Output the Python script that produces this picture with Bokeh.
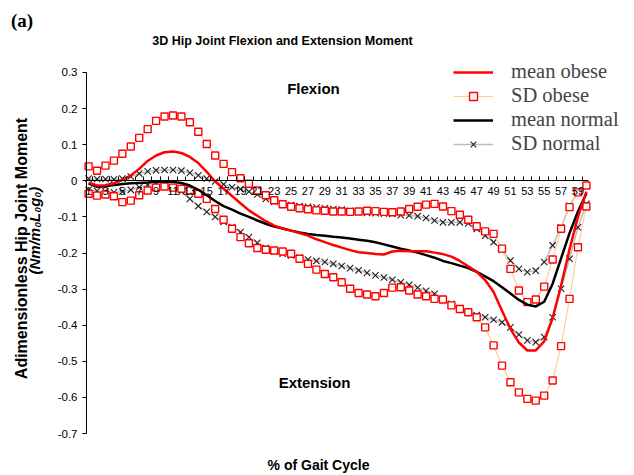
from bokeh.plotting import figure
from bokeh.models import Range1d, FixedTicker, CustomJSTickFormatter, Label, Legend, LegendItem
from bokeh.embed import file_html
from bokeh.resources import INLINE

# ---------------- data ----------------
gait_pct = list(range(1, 61))
x_tick_labels = list(range(1, 60, 2))
y_ticks = [0.3, 0.2, 0.1, 0.0, -0.1, -0.2, -0.3, -0.4, -0.5, -0.6, -0.7]

mean_obese = [-0.005, -0.013, -0.012, -0.007, 0.002, 0.015, 0.033, 0.055, 0.070, 0.079,
              0.081, 0.077, 0.066, 0.049, 0.025, -0.002, -0.022, -0.042, -0.062, -0.082,
              -0.097, -0.112, -0.124, -0.132, -0.138, -0.145, -0.152, -0.162, -0.170, -0.178,
              -0.185, -0.192, -0.198, -0.200, -0.203, -0.204, -0.196, -0.194, -0.195, -0.195,
              -0.195, -0.199, -0.203, -0.210, -0.222, -0.237, -0.252, -0.275, -0.308, -0.360,
              -0.410, -0.448, -0.470, -0.470, -0.445, -0.380, -0.290, -0.190, -0.100, -0.030]

sd_obese_upper = [0.040, 0.028, 0.042, 0.056, 0.075, 0.095, 0.119, 0.143, 0.166, 0.178,
                  0.181, 0.178, 0.162, 0.136, 0.102, 0.070, 0.047, 0.024, 0.007, -0.008,
                  -0.027, -0.040, -0.054, -0.065, -0.072, -0.076, -0.079, -0.082, -0.083, -0.085,
                  -0.085, -0.086, -0.085, -0.083, -0.084, -0.086, -0.087, -0.085, -0.078, -0.072,
                  -0.066, -0.064, -0.071, -0.084, -0.094, -0.108, -0.126, -0.140, -0.147, -0.188,
                  -0.244, -0.304, -0.336, -0.329, -0.293, -0.218, -0.133, -0.073, -0.032, -0.013]

sd_obese_lower = [-0.036, -0.041, -0.038, -0.043, -0.059, -0.055, -0.040, -0.027, -0.019, -0.016,
                  -0.019, -0.022, -0.027, -0.036, -0.050, -0.078, -0.108, -0.133, -0.156, -0.173,
                  -0.186, -0.191, -0.193, -0.196, -0.202, -0.216, -0.230, -0.246, -0.258, -0.267,
                  -0.281, -0.299, -0.311, -0.315, -0.320, -0.311, -0.296, -0.295, -0.304, -0.315,
                  -0.320, -0.327, -0.329, -0.345, -0.355, -0.364, -0.378, -0.406, -0.456, -0.512,
                  -0.558, -0.586, -0.604, -0.609, -0.595, -0.553, -0.458, -0.327, -0.184, -0.071]

mean_normal = [-0.008, -0.017, -0.015, -0.012, -0.009, -0.007, -0.006, -0.005, -0.003, -0.002,
               -0.003, -0.006, -0.013, -0.025, -0.040, -0.056, -0.070, -0.080, -0.091, -0.100,
               -0.110, -0.119, -0.127, -0.132, -0.138, -0.143, -0.147, -0.150, -0.152, -0.155,
               -0.157, -0.160, -0.163, -0.166, -0.170, -0.176, -0.182, -0.188, -0.193, -0.199,
               -0.206, -0.213, -0.222, -0.228, -0.235, -0.242, -0.252, -0.265, -0.278, -0.295,
               -0.312, -0.330, -0.343, -0.348, -0.335, -0.285, -0.215, -0.145, -0.085, -0.035]

sd_normal_upper = [0.006, 0.005, 0.005, 0.004, 0.006, 0.012, 0.020, 0.026, 0.029, 0.030,
                   0.030, 0.028, 0.022, 0.015, 0.006, -0.002, -0.010, -0.018, -0.023, -0.030,
                   -0.038, -0.050, -0.058, -0.063, -0.067, -0.070, -0.072, -0.074, -0.076, -0.078,
                   -0.080, -0.083, -0.086, -0.089, -0.090, -0.091, -0.092, -0.095, -0.096, -0.098,
                   -0.103, -0.110, -0.115, -0.115, -0.115, -0.118, -0.133, -0.152, -0.170, -0.191,
                   -0.221, -0.244, -0.253, -0.249, -0.225, -0.179, -0.129, -0.069, -0.030, -0.013]

sd_normal_lower = [-0.025, -0.028, -0.030, -0.032, -0.030, -0.025, -0.018, -0.012, -0.010, -0.011,
                   -0.018, -0.030, -0.050, -0.070, -0.086, -0.100, -0.114, -0.128, -0.142, -0.156,
                   -0.172, -0.186, -0.196, -0.202, -0.207, -0.213, -0.218, -0.222, -0.225, -0.230,
                   -0.236, -0.242, -0.248, -0.255, -0.262, -0.268, -0.274, -0.281, -0.288, -0.296,
                   -0.305, -0.313, -0.328, -0.341, -0.353, -0.362, -0.372, -0.378, -0.385, -0.392,
                   -0.406, -0.426, -0.442, -0.447, -0.433, -0.378, -0.299, -0.216, -0.129, -0.064]

# ---------------- figure ----------------
SANS = "Liberation Sans"
SERIF = "Liberation Serif"

# the frame covers the whole canvas; the axes are drawn at fixed locations with bounds
X_MIN, X_MAX = 0.75, 60.25
Y_MIN, Y_MAX = -0.7, 0.3

p = figure(width=634, height=475,
           min_border_left=0, min_border_right=0, min_border_top=0, min_border_bottom=0,
           x_range=Range1d(-9.443, 65.702), y_range=Range1d(-0.8163, 0.4994),
           output_backend="svg", toolbar_location=None, tools="")
p.outline_line_color = None
p.grid.visible = False
p.background_fill_color = "white"
p.border_fill_color = "white"

xa = p.xaxis[0]
xa.fixed_location = 0
xa.bounds = (X_MIN, X_MAX)
xa.ticker = FixedTicker(ticks=x_tick_labels, minor_ticks=[k + 0.5 for k in range(1, 60)])
xa.major_tick_in = 0
xa.major_tick_out = 0
xa.minor_tick_in = 4
xa.minor_tick_out = 0
xa.minor_tick_line_color = "black"
xa.major_label_standoff = 6
xa.major_label_text_font = SANS
xa.major_label_text_font_size = "11px"
xa.major_label_text_color = "black"
xa.axis_line_color = "black"

ya = p.yaxis[0]
ya.fixed_location = X_MIN
ya.bounds = (Y_MIN, Y_MAX)
ya.ticker = FixedTicker(ticks=y_ticks)
ya.formatter = CustomJSTickFormatter(code="return Math.abs(tick) < 1e-9 ? '0' : tick.toFixed(1);")
ya.major_tick_in = 0
ya.major_tick_out = 4
ya.minor_tick_line_color = None
ya.major_label_standoff = 5
ya.major_label_text_font = SANS
ya.major_label_text_font_size = "11.5px"
ya.major_label_text_color = "black"
ya.axis_line_color = "black"

# ---------------- series ----------------
sdn_up_line = p.line(gait_pct, sd_normal_upper, line_color="#BDBDBD", line_width=1.5)
sdn_lo_line = p.line(gait_pct, sd_normal_lower, line_color="#BDBDBD", line_width=1.5)
sdn_up_pts = p.scatter(gait_pct, sd_normal_upper, marker="x", size=9, line_color="#202020", line_width=1.1)
sdn_lo_pts = p.scatter(gait_pct, sd_normal_lower, marker="x", size=9, line_color="#202020", line_width=1.1)

sdo_up_line = p.line(gait_pct, sd_obese_upper, line_color="#FFCC99", line_width=1.2)
sdo_lo_line = p.line(gait_pct, sd_obese_lower, line_color="#FFCC99", line_width=1.2)
sdo_up_pts = p.scatter(gait_pct, sd_obese_upper, marker="square", size=7, line_color="#FF0000",
                       fill_color="white", line_width=1.4)
sdo_lo_pts = p.scatter(gait_pct, sd_obese_lower, marker="square", size=7, line_color="#FF0000",
                       fill_color="white", line_width=1.4)

mn_line = p.line(gait_pct, mean_normal, line_color="black", line_width=2.5)
mo_line = p.line(gait_pct, mean_obese, line_color="#FF0000", line_width=2.5)

legend = Legend(items=[
    LegendItem(label="mean obese", renderers=[mo_line]),
    LegendItem(label="SD obese", renderers=[sdo_up_line, sdo_up_pts]),
    LegendItem(label="mean normal", renderers=[mn_line]),
    LegendItem(label="SD normal", renderers=[sdn_up_line, sdn_up_pts]),
], location=(453, 320))
legend.glyph_width = 40
legend.glyph_height = 20
legend.label_height = 20
legend.label_standoff = 18
legend.spacing = 1
legend.padding = 0
legend.margin = 0
legend.border_line_color = None
legend.background_fill_alpha = 0
legend.label_text_font = SERIF
legend.label_text_font_size = "20.5px"
legend.label_text_baseline = "middle"
p.add_layout(legend)

# ---------------- texts ----------------
def add_label(x, y, text, font=SANS, size="15px", style="bold", angle=0.0):
    p.add_layout(Label(x=x, y=y, text=text, text_font=font, text_font_size=size,
                       text_font_style=style, text_align="center", text_baseline="middle",
                       angle=angle, text_color="black"))

add_label(23.98, 0.386, "3D Hip Joint Flexion and Extension Moment", size="12.5px")
add_label(-6.9, 0.444, "(a)", font=SERIF, size="19px")
add_label(27.65, 0.256, "Flexion", size="15px")
add_label(27.77, -0.559, "Extension", size="15px")
add_label(28.25, -0.7886, "% of Gait Cycle", size="14px")
add_label(-6.95, -0.1875, "Adimensionless Hip Joint Moment", size="16px", angle=1.5708)
add_label(-5.41, -0.138, "(Nm/m\u2080L\u2080g\u2080)", size="15px", style="bold italic", angle=1.5708)

open("out.html", "w").write(file_html(p, INLINE))
